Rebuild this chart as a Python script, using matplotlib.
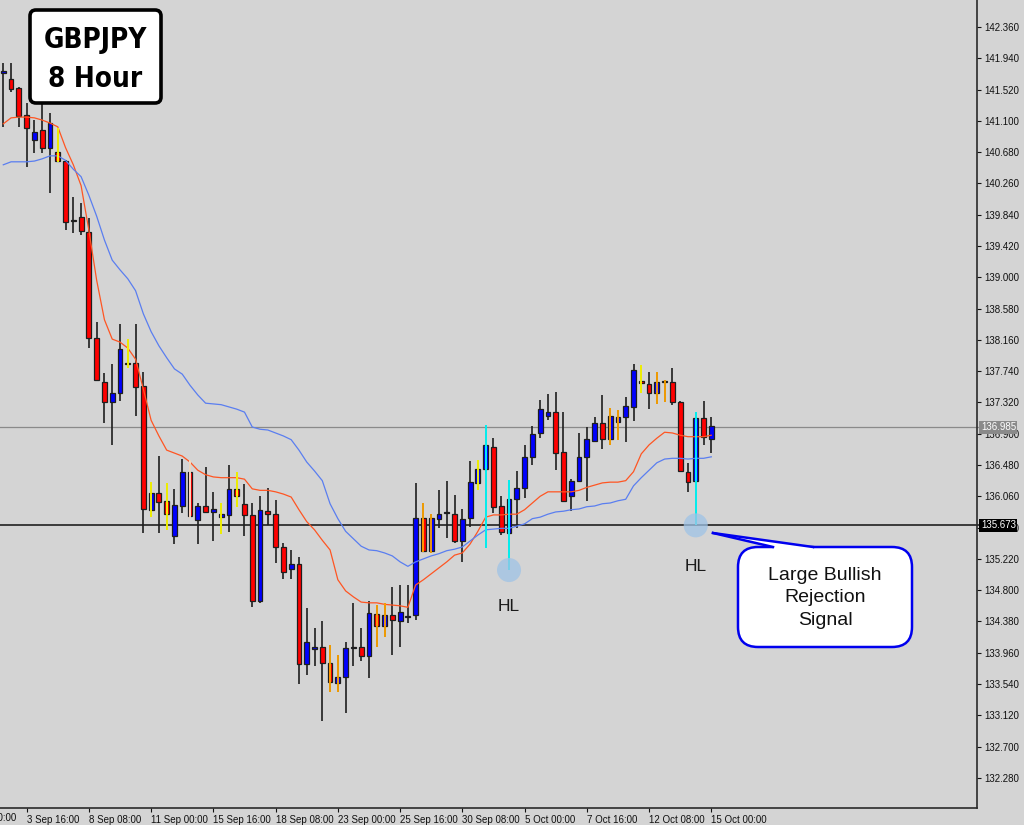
import matplotlib
matplotlib.use('Agg')
import matplotlib.pyplot as plt
from matplotlib.patches import FancyBboxPatch, Polygon
from matplotlib.transforms import IdentityTransform
from matplotlib.lines import Line2D
import numpy as np

plt.rcParams['font.family'] = ['Liberation Sans', 'DejaVu Sans']

# GBPJPY 8h candles (bar 0 = 2 Sep 16:00, last bar = 15 Oct 00:00)
opens = [141.74, 141.66, 141.54, 141.18, 140.84, 140.98, 140.74, 140.68, 140.56, 139.77,
         139.81, 139.61, 138.19, 137.59, 137.33, 137.45, 137.85, 137.85, 137.54, 135.88,
         136.10, 136.00, 135.53, 135.93, 136.39, 135.74, 135.93, 135.85, 135.78, 135.81,
         136.16, 135.96, 135.81, 134.65, 135.86, 135.82, 135.38, 135.08, 135.15, 133.81,
         134.01, 134.04, 133.82, 133.55, 133.63, 134.02, 134.04, 133.92, 134.48, 134.32,
         134.47, 134.39, 134.44, 134.47, 135.77, 135.33, 135.76, 135.84, 135.82, 135.46,
         135.77, 136.24, 136.43, 136.72, 135.93, 135.57, 136.02, 136.17, 136.59, 136.91,
         137.14, 137.19, 136.65, 136.06, 136.27, 136.59, 136.80, 137.04, 136.83, 137.06,
         137.12, 137.26, 137.61, 137.57, 137.45, 137.59, 137.59, 137.33, 136.39, 136.27,
         137.11, 136.83]
highs = [141.88, 141.88, 141.55, 141.34, 141.11, 141.34, 141.21, 141.00, 140.57, 140.08,
         140.00, 139.80, 138.40, 137.72, 137.84, 138.37, 138.17, 138.37, 137.73, 136.25,
         136.60, 136.24, 136.16, 136.56, 136.55, 135.97, 136.45, 136.12, 135.97, 136.48,
         136.39, 136.23, 135.97, 136.06, 136.17, 136.01, 135.43, 135.34, 135.25, 134.56,
         134.29, 134.39, 134.06, 133.93, 134.10, 134.63, 134.29, 134.65, 134.60, 134.63,
         134.84, 134.87, 134.87, 136.24, 135.97, 135.82, 136.14, 136.27, 136.08, 135.89,
         136.53, 136.55, 137.02, 136.84, 136.06, 136.28, 136.40, 136.75, 137.00, 137.35,
         137.43, 137.46, 137.19, 136.29, 136.91, 136.99, 137.12, 137.42, 137.25, 137.22,
         137.39, 137.84, 137.82, 137.73, 137.73, 137.62, 137.78, 137.34, 136.51, 137.19,
         137.34, 137.12]
lows = [141.02, 141.49, 141.02, 140.48, 140.67, 140.67, 140.13, 140.55, 139.63, 139.59,
        139.57, 138.05, 137.61, 137.04, 136.75, 137.34, 137.78, 137.14, 135.57, 135.78,
        135.57, 135.61, 135.42, 135.84, 135.77, 135.42, 135.84, 135.46, 135.55, 135.58,
        135.92, 135.53, 134.57, 134.63, 135.67, 135.16, 134.95, 134.95, 133.54, 133.66,
        133.78, 133.04, 133.43, 133.43, 133.15, 133.78, 133.85, 133.62, 134.04, 134.17,
        133.93, 134.04, 134.36, 134.40, 135.31, 135.30, 135.63, 135.50, 135.43, 135.18,
        135.65, 136.14, 135.37, 135.84, 135.54, 135.07, 135.63, 136.04, 136.48, 136.84,
        137.08, 136.41, 135.98, 135.86, 136.25, 136.00, 136.79, 136.70, 136.75, 136.82,
        136.79, 137.07, 137.45, 137.23, 137.30, 137.33, 137.29, 136.38, 136.12, 135.67,
        136.75, 136.64]
closes = [141.77, 141.53, 141.17, 141.00, 140.95, 140.74, 141.07, 140.56, 139.74, 139.76,
          139.62, 138.19, 137.62, 137.33, 137.45, 138.04, 137.84, 137.53, 135.89, 136.10,
          135.98, 135.82, 135.94, 136.39, 135.80, 135.93, 135.85, 135.89, 135.82, 136.16,
          136.06, 135.81, 134.65, 135.88, 135.82, 135.38, 135.04, 135.15, 133.81, 134.10,
          134.04, 133.82, 133.57, 133.63, 134.02, 134.04, 133.92, 134.49, 134.32, 134.47,
          134.40, 134.51, 134.45, 135.77, 135.33, 135.77, 135.82, 135.85, 135.46, 135.76,
          136.25, 136.43, 136.75, 135.92, 135.58, 136.02, 136.17, 136.59, 136.90, 137.23,
          137.19, 136.64, 136.00, 136.27, 136.59, 136.83, 137.04, 136.83, 137.14, 137.12,
          137.27, 137.76, 137.58, 137.45, 137.59, 137.61, 137.33, 136.40, 136.25, 137.11,
          136.86, 137.00]

# moving averages
ma_fast = [141.06, 141.14, 141.15, 141.15, 141.14, 141.11, 141.07, 141.02, 140.74, 140.51,
           140.23, 139.63, 138.96, 138.43, 138.17, 138.13, 138.05, 137.90, 137.50, 137.08,
           136.87, 136.68, 136.64, 136.60, 136.52, 136.41, 136.35, 136.32, 136.31, 136.31,
           136.31, 136.29, 136.16, 136.14, 136.14, 136.12, 136.09, 136.05, 135.88, 135.72,
           135.61, 135.47, 135.34, 134.94, 134.79, 134.71, 134.64, 134.63, 134.63, 134.61,
           134.60, 134.59, 134.57, 134.87, 134.94, 135.02, 135.10, 135.18, 135.27, 135.30,
           135.42, 135.59, 135.78, 135.81, 135.81, 135.82, 135.82, 135.88, 135.97, 136.06,
           136.12, 136.12, 136.12, 136.12, 136.14, 136.18, 136.21, 136.24, 136.25, 136.25,
           136.27, 136.39, 136.63, 136.75, 136.84, 136.92, 136.91, 136.88, 136.86, 136.86,
           136.86, 136.88]
ma_slow = [140.51, 140.55, 140.55, 140.55, 140.56, 140.59, 140.63, 140.63, 140.57, 140.45,
           140.35, 140.10, 139.82, 139.50, 139.23, 139.10, 138.98, 138.82, 138.51, 138.27,
           138.08, 137.92, 137.77, 137.70, 137.55, 137.42, 137.31, 137.30, 137.29, 137.26,
           137.23, 137.19, 136.99, 136.96, 136.95, 136.91, 136.87, 136.82, 136.68, 136.52,
           136.40, 136.27, 135.96, 135.76, 135.59, 135.49, 135.39, 135.34, 135.33, 135.30,
           135.26, 135.18, 135.12, 135.18, 135.22, 135.26, 135.29, 135.33, 135.35, 135.38,
           135.46, 135.54, 135.61, 135.62, 135.63, 135.63, 135.66, 135.69, 135.76, 135.78,
           135.82, 135.85, 135.86, 135.88, 135.89, 135.92, 135.93, 135.96, 135.97, 136.00,
           136.02, 136.20, 136.31, 136.41, 136.51, 136.56, 136.57, 136.57, 136.56, 136.57,
           136.57, 136.59]

yellow_bars = [7, 16, 19, 21, 28, 30, 61, 82]
orange_bars = [42, 43, 48, 49, 54, 55, 78, 79, 84, 85]
cyan_bars = [62, 65, 89]
pale_bars = [24]
hl_bars = [65, 89]

bid_price = 136.985
level_price = 135.673

ytick_vals = [132.280, 132.700, 133.120, 133.540, 133.960, 134.380, 134.800, 135.220,
              135.640, 136.060, 136.480, 136.900, 137.320, 137.740, 138.160, 138.580,
              139.000, 139.420, 139.840, 140.260, 140.680, 141.100, 141.520, 141.940,
              142.360]
xtick_pos = [3, 11, 19, 27, 35, 43, 51, 59, 67, 75, 83, 91]
xtick_labels = ['3 Sep 16:00', '8 Sep 08:00', '11 Sep 00:00', '15 Sep 16:00',
                '18 Sep 08:00', '23 Sep 00:00', '25 Sep 16:00', '30 Sep 08:00',
                '5 Oct 00:00', '7 Oct 16:00', '12 Oct 08:00', '15 Oct 00:00']

bg = '#d4d4d4'
fig = plt.figure(figsize=(10.24, 8.25), dpi=100, facecolor=bg)
ax = fig.add_axes([0, 17 / 825, 977 / 1024, 808 / 825], facecolor=bg)

x = np.arange(len(opens))
o = np.array(opens)
c = np.array(closes)
lo = np.array(lows)
hi = np.array(highs)
up = c >= o

# wicks + bodies
ax.vlines(x, lo, hi, color='#1e1e1e', lw=1.2, zorder=2)
body_bottom = np.minimum(o, c)
body_h = np.maximum(np.abs(c - o), 0.012)
ax.bar(x, body_h, 0.62, bottom=body_bottom,
       color=np.where(up, '#0000ff', '#ff0000'),
       edgecolor='#1e1e1e', linewidth=0.9, zorder=3)

# moving averages
ax.plot(x, ma_fast, color='#ff5522', lw=0.9, zorder=4)
ax.plot(x, ma_slow, color='#5a7ef0', lw=0.9, zorder=4)

# signal highlight lines
for bars, col in [(yellow_bars, '#ffff00'), (orange_bars, '#ffa500'),
                  (cyan_bars, '#00ffff'), (pale_bars, '#ffe6cc')]:
    ax.vlines(x[bars], lo[bars], hi[bars], color=col, lw=1.3, zorder=5)

# horizontal lines
ax.axhline(bid_price, color='#8a8a8a', lw=0.9, zorder=1, xmax=1.004, clip_on=False)
ax.axhline(level_price, color='#3a3a3a', lw=1.4, zorder=1, xmax=1.004, clip_on=False)

# HL markers
ax.scatter(x[hl_bars], lo[hl_bars], s=300, color='#9fc3e6', alpha=0.75,
           edgecolors='none', zorder=6)
for i, dy in zip(hl_bars, [-36, -41]):
    ax.annotate('HL', (x[i], lo[i]), xytext=(0, dy), textcoords='offset pixels',
                ha='center', va='center', fontsize=12.5, color='#1a1a1a', zorder=7)

ax.set_xlim(-0.424, 125.15)
ax.set_ylim(131.876, 142.722)

# axes styling
for s in ['left', 'top']:
    ax.spines[s].set_visible(False)
for s in ['right', 'bottom']:
    ax.spines[s].set_color('#2a2a2a')
    ax.spines[s].set_linewidth(1.2)
ax.yaxis.tick_right()
ax.set_yticks(ytick_vals)
ax.set_yticklabels([f'{v:.3f}' for v in ytick_vals])
ax.tick_params(axis='y', direction='out', length=3, width=0.8, pad=2,
               labelsize=7, colors='#111111')
ax.set_xticks(xtick_pos)
ax.set_xticklabels(xtick_labels)
ax.tick_params(axis='x', direction='out', length=3, width=0.8, pad=2,
               labelsize=7, colors='#111111')
for lbl in ax.get_xticklabels():
    lbl.set_ha('left')
ax.text(-5, -5 / 808, '1 Sep 00:00', transform=ax.get_xaxis_transform(),
        ha='left', va='top', fontsize=7, color='#111111', clip_on=False)

# price tags on the axis
ax.text(1.004, bid_price, f'{bid_price:.3f}', transform=ax.get_yaxis_transform(),
        ha='left', va='center', fontsize=7, color='white', zorder=10, clip_on=False,
        bbox=dict(boxstyle='square,pad=0.15', fc='#8a8a8a', ec='none'))
ax.text(1.004, level_price, f'{level_price:.3f}', transform=ax.get_yaxis_transform(),
        ha='left', va='center', fontsize=7, color='white', zorder=10, clip_on=False,
        bbox=dict(boxstyle='square,pad=0.15', fc='black', ec='none'))

# title box (pixel coordinates, origin bottom-left)
H = 825
idt = IdentityTransform()
fig.add_artist(FancyBboxPatch((30, H - 103), 131, 93,
                              boxstyle='round,pad=0,rounding_size=6',
                              transform=idt, fc='white', ec='black', lw=2.6))
for txt, yb in [('GBPJPY', 48), ('8 Hour', 87)]:
    fig.text(95, H - yb, txt, transform=idt, ha='center', va='baseline',
             fontsize=20, fontweight='bold', fontstretch='condensed', color='black',
             family=['DejaVu Sans'])

# callout
fig.add_artist(FancyBboxPatch((738, H - 647), 174, 100,
                              boxstyle='round,pad=0,rounding_size=20',
                              transform=idt, fc='white', ec='#0000ee', lw=1.8))
tip = (713, H - 533)
b1 = (773, H - 547)
b2 = (813, H - 547)
fig.add_artist(Polygon([tip, b1, (773, H - 550), (813, H - 550), b2], closed=True,
                       transform=idt, fc='white', ec='none'))
fig.add_artist(Line2D([tip[0], b1[0]], [tip[1], b1[1]], transform=idt,
                      color='#0000ee', lw=1.8))
fig.add_artist(Line2D([tip[0], b2[0]], [tip[1], b2[1]], transform=idt,
                      color='#0000ee', lw=1.8))
fig.text(825, H - 598, 'Large Bullish\nRejection\nSignal', transform=idt,
         ha='center', va='center', fontsize=14, linespacing=1.42,
         color='#111111')

fig.savefig('out.png', dpi=100, facecolor=bg)
